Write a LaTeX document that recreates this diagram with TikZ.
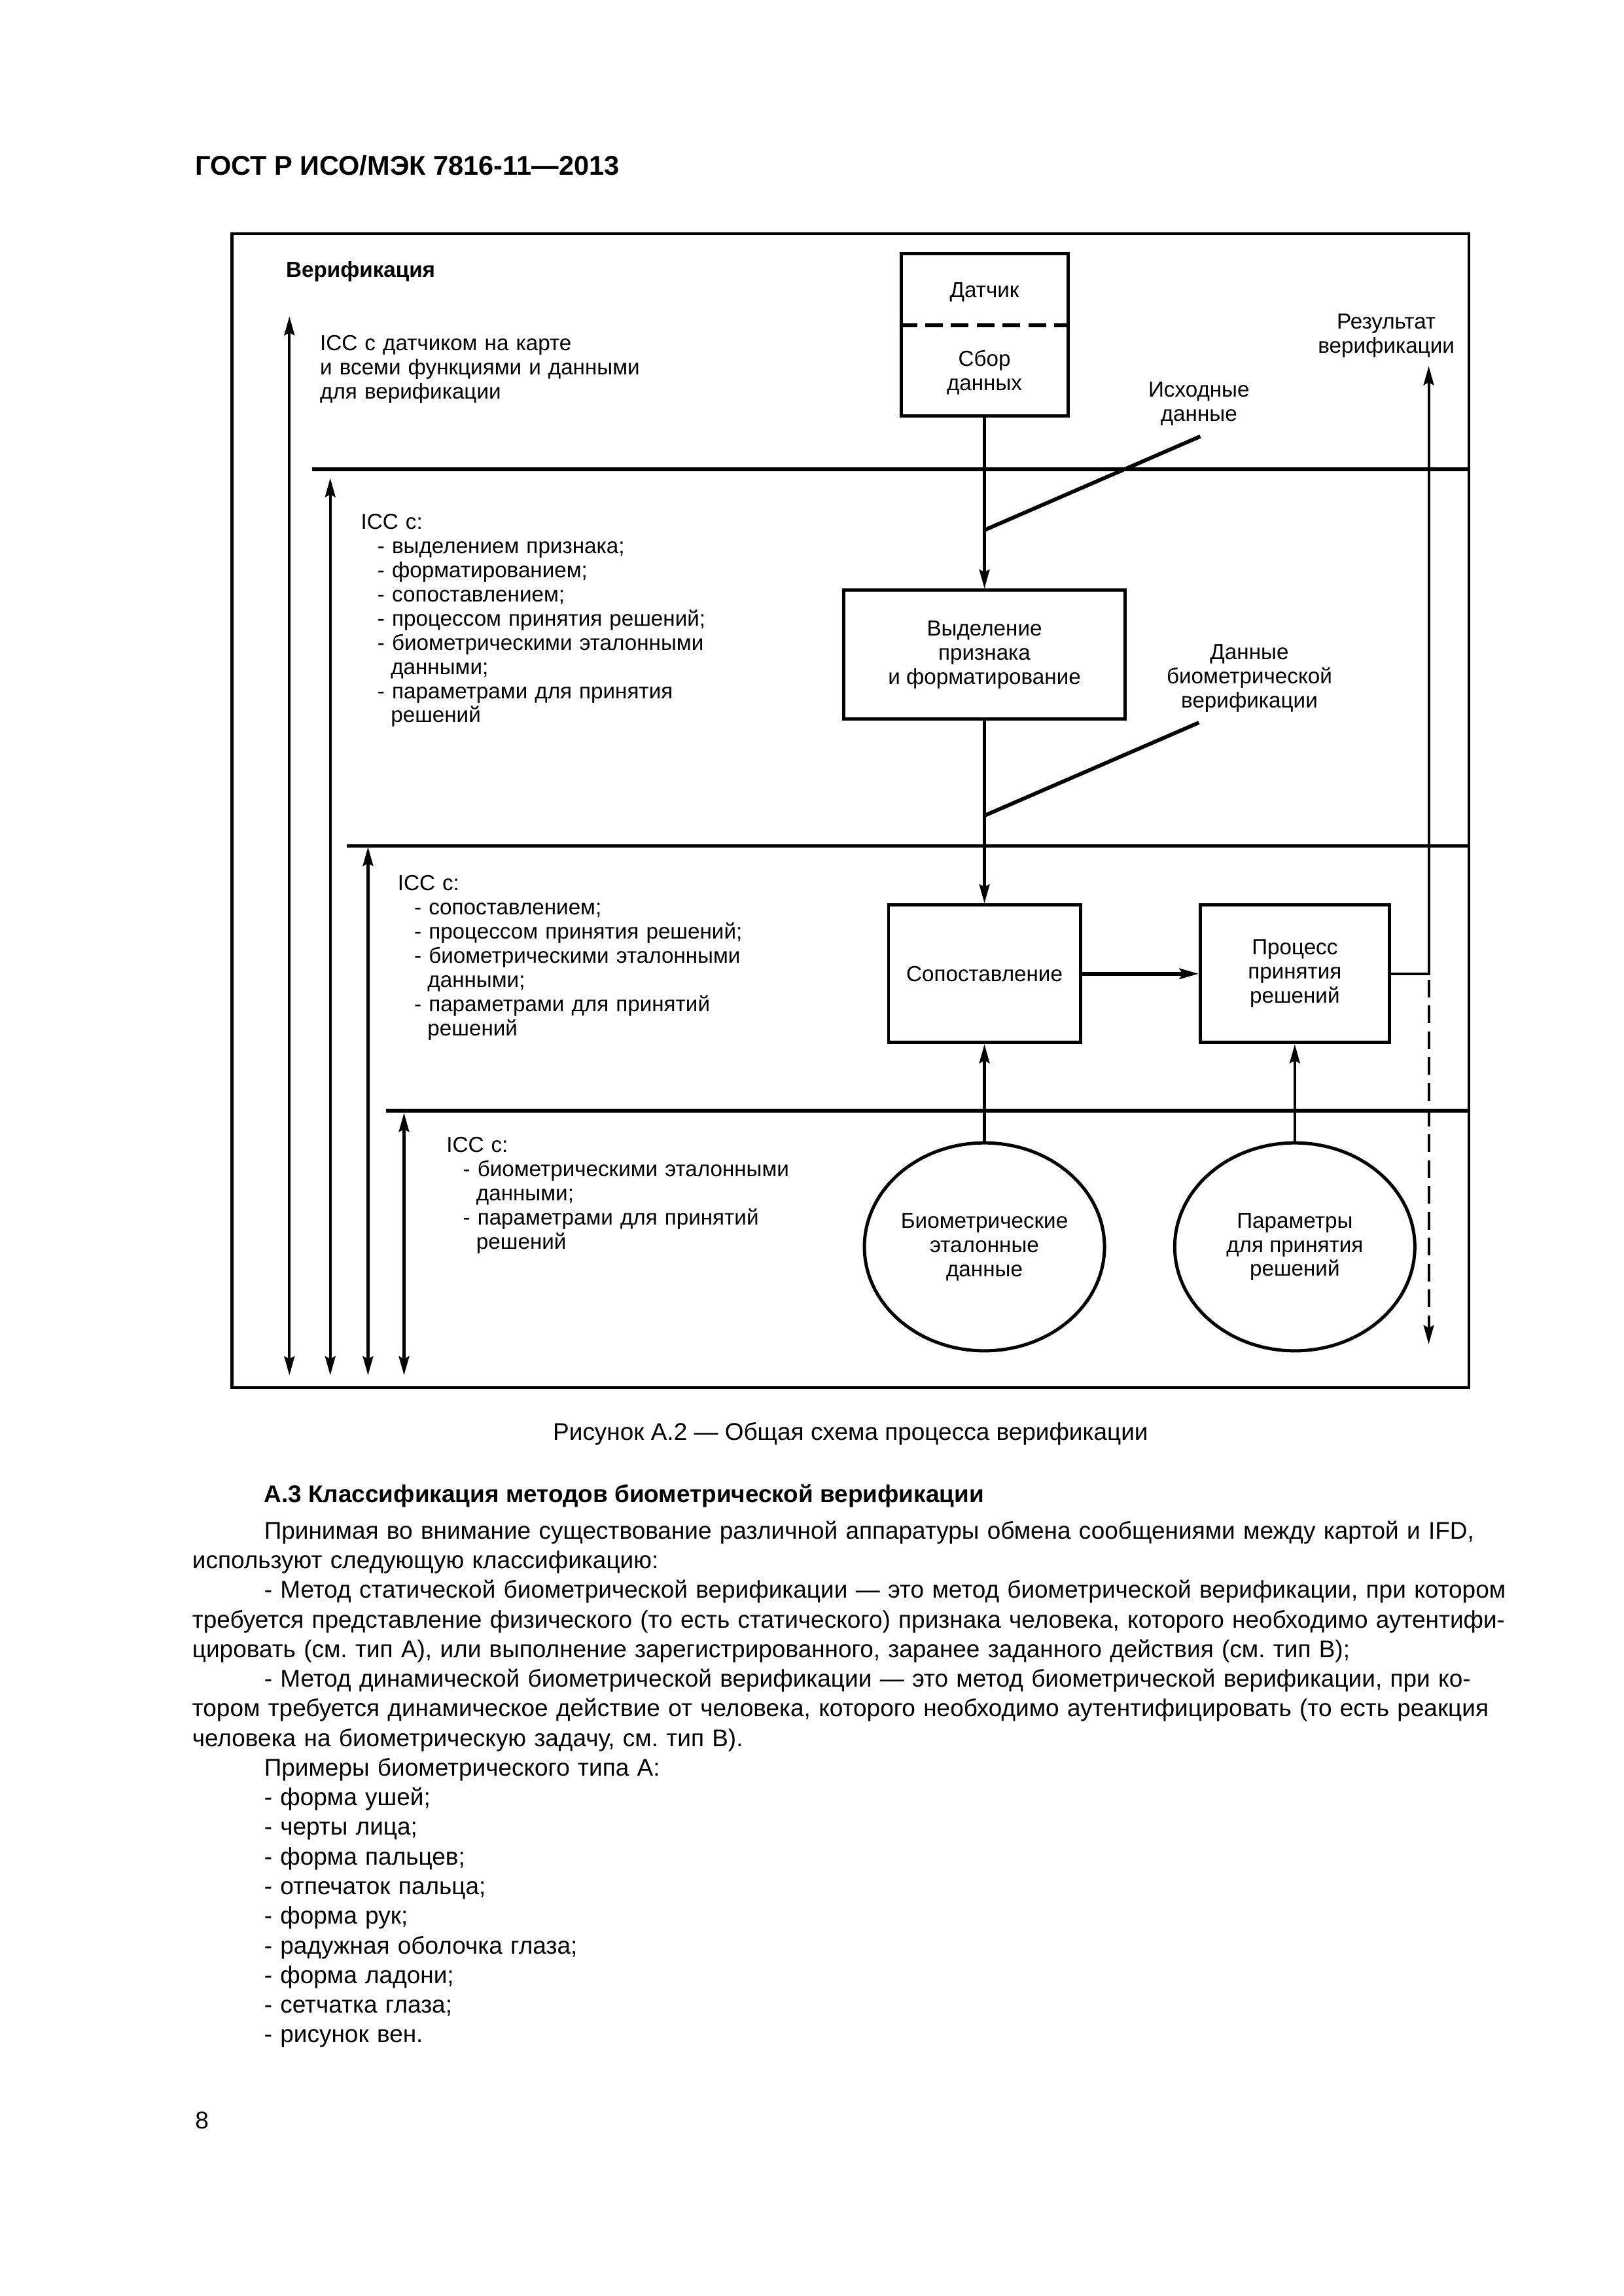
\documentclass[tikz,border=0pt]{standalone}
\usepackage{fontspec}
\setmainfont{Liberation Sans}
\usepackage{tikz}
\usetikzlibrary{arrows.meta,shapes.geometric,calc}
\frenchspacing

\newcommand{\diagfont}{\fontsize{8}{8.9}\selectfont}
\newcommand{\bodyfont}{\fontsize{8.9}{10.9}\selectfont}
\newcommand{\dashitem}{\hspace*{6.1pt}-\ }
\newcommand{\contline}{\hspace*{11pt}}
\newcommand{\fullline}[1]{\parbox[t]{17.02cm}{\parindent=0pt\parfillskip=0pt\tolerance=10000\hyphenpenalty=10000 #1}}

\tikzset{
  frameline/.style={line width=1.1pt},
  bandline/.style={line width=1.3pt},
  blockbox/.style={draw, rectangle, line width=1.2pt, align=center, font=\diagfont, inner sep=0pt},
  oval/.style={draw, ellipse, line width=1.2pt, align=center, font=\diagfont, inner sep=0pt},
  flow/.style={->, line width=1pt},
  scalearrow/.style={<->, line width=1pt},
  slashline/.style={line width=1.4pt},
  brokenline/.style={dash pattern=on 6.5pt off 3pt},
  bandtext/.style={anchor=base west, text width=7cm, align=left, font=\diagfont, inner sep=0pt},
  sidelabel/.style={anchor=base, text width=3.2cm, align=center, font=\diagfont, inner sep=0pt}
}

\begin{document}
\begin{tikzpicture}[x=0.18936mm, y=-0.18936mm, >={Stealth[length=7pt,width=3.8pt,inset=1pt]}]
    \fill[white] (0,0) rectangle (1109,1568);
    \useasboundingbox (0,0) rectangle (1109,1568);

    % page head
    \node[anchor=base west, inner sep=0pt, font=\fontsize{10}{12}\selectfont\bfseries] (header) at (133,119.7) {ГОСТ Р ИСО/МЭК 7816-11—2013};

    % frame and bands
    \draw[frameline] (158.5,159.5) rectangle (1003.5,947.5);
    \foreach \xs/\yl in {213.4/320.5, 237/577.7, 263.5/758.5}
        \draw[bandline] (\xs,\yl) -- (1003.5,\yl);
    \foreach \xa/\ya in {197.7/216, 225.6/326.5, 251.4/578.4, 276/760}
        \draw[scalearrow] (\xa,\ya) -- (\xa,939.2);

    % band texts
    \node[bandtext, font=\diagfont\bfseries] (title) at (195,189.3) {Верификация};
    \node[bandtext] (bandone) at (218.3,239.5) {ICC с датчиком на карте\\и всеми функциями и данными\\для верификации};
    \node[bandtext] (bandtwo) at (246.2,361.3) {ICC с:\\
        \dashitem выделением признака;\\
        \dashitem форматированием;\\
        \dashitem сопоставлением;\\
        \dashitem процессом принятия решений;\\
        \dashitem биометрическими эталонными\\
        \contline данными;\\
        \dashitem параметрами для принятия\\
        \contline решений};
    \node[bandtext] (bandthree) at (271.3,608) {ICC с:\\
        \dashitem сопоставлением;\\
        \dashitem процессом принятия решений;\\
        \dashitem биометрическими эталонными\\
        \contline данными;\\
        \dashitem параметрами для принятий\\
        \contline решений};
    \node[bandtext] (bandfour) at (304.6,786.8) {ICC с:\\
        \dashitem биометрическими эталонными\\
        \contline данными;\\
        \dashitem параметрами для принятий\\
        \contline решений};

    % blocks
    \node[blockbox, minimum width=2.159cm, minimum height=2.102cm] (sensor) at (672.5,228.5) {};
    \node[font=\diagfont, inner sep=0pt] (sensorlabel) at (672.5,199.5) {Датчик};
    \node[font=\diagfont, align=center, inner sep=0pt] (capturelabel) at (672.5,254.5) {Сбор\\данных};
    \draw[line width=1.4pt, brokenline] (sensor.west |- 0,222) -- (sensor.east |- 0,222);

    \node[blockbox, minimum width=3.636cm, minimum height=1.666cm] (feature) at (672.5,447) {Выделение\\признака\\и форматирование};
    \node[blockbox, minimum width=2.481cm, minimum height=1.780cm] (matching) at (672.5,665) {Сопоставление};
    \node[blockbox, minimum width=2.443cm, minimum height=1.780cm] (decision) at (884.5,665) {Процесс\\принятия\\решений};
    \node[oval, minimum width=3.106cm, minimum height=2.689cm] (reference) at (672.5,851.5) {Биометрические\\эталонные\\данные};
    \node[oval, minimum width=3.106cm, minimum height=2.689cm] (params) at (884.5,851.5) {Параметры\\для принятия\\решений};

    % connectors
    \draw[flow] (sensor) -- (feature);
    \draw[flow] (feature) -- (matching);
    \draw[flow, line width=1.4pt] (matching) -- (decision);
    \draw[flow] (reference) -- (matching);
    \draw[flow] (params) -- (decision);

    \coordinate (result) at (976,250);
    \coordinate (dashstart) at (976,669);
    \coordinate (dashend) at (976,918);
    \draw[flow] (decision.east) -- (result |- decision.east) -- (result);
    \draw[flow, brokenline] (dashstart) -- (dashend);
    \node[sidelabel] (resultlabel) at (947,224.5) {Результат\\верификации};

    % data marks
    \coordinate (rawfoot) at (672.5,362);
    \coordinate (rawtip) at (820,298);
    \draw[slashline] (rawfoot) -- (rawtip);
    \node[sidelabel] (rawlabel) at (819,271) {Исходные\\данные};
    \coordinate (biofoot) at (672.5,557);
    \coordinate (biotip) at (819,493.5);
    \draw[slashline] (biofoot) -- (biotip);
    \node[sidelabel] (biolabel) at (853.5,450.2) {Данные\\биометрической\\верификации};

    % caption and text
    \node[anchor=base, inner sep=0pt, font=\bodyfont] (caption) at (581,983.5) {Рисунок А.2 — Общая схема процесса верификации};
    \node[anchor=base west, inner sep=0pt, font=\bodyfont\bfseries] (heading) at (180,1026) {А.3 Классификация методов биометрической верификации};
    \node[anchor=base west, inner sep=0pt, text width=17.02cm, align=left, font=\bodyfont] (body) at (131,1051) {%
        \fullline{\hspace*{0.93cm}Принимая во внимание существование различной аппаратуры обмена сообщениями между картой и IFD,}\\
        используют следующую классификацию:\\
        \fullline{\hspace*{0.93cm}- Метод статической биометрической верификации — это метод биометрической верификации, при котором}\\
        \fullline{требуется представление физического (то есть статического) признака человека, которого необходимо аутентифи-}\\
        цировать (см. тип А), или выполнение зарегистрированного, заранее заданного действия (см. тип В);\\
        \fullline{\hspace*{0.93cm}- Метод динамической биометрической верификации — это метод биометрической верификации, при ко-}\\
        \fullline{тором требуется динамическое действие от человека, которого необходимо аутентифицировать (то есть реакция}\\
        человека на биометрическую задачу, см. тип В).\\
        \hspace*{0.93cm}Примеры биометрического типа А:\\
        \hspace*{0.93cm}- форма ушей;\\
        \hspace*{0.93cm}- черты лица;\\
        \hspace*{0.93cm}- форма пальцев;\\
        \hspace*{0.93cm}- отпечаток пальца;\\
        \hspace*{0.93cm}- форма рук;\\
        \hspace*{0.93cm}- радужная оболочка глаза;\\
        \hspace*{0.93cm}- форма ладони;\\
        \hspace*{0.93cm}- сетчатка глаза;\\
        \hspace*{0.93cm}- рисунок вен.};
    \node[anchor=base west, inner sep=0pt, font=\bodyfont] (pageno) at (133,1454) {8};
\end{tikzpicture}
\end{document}
